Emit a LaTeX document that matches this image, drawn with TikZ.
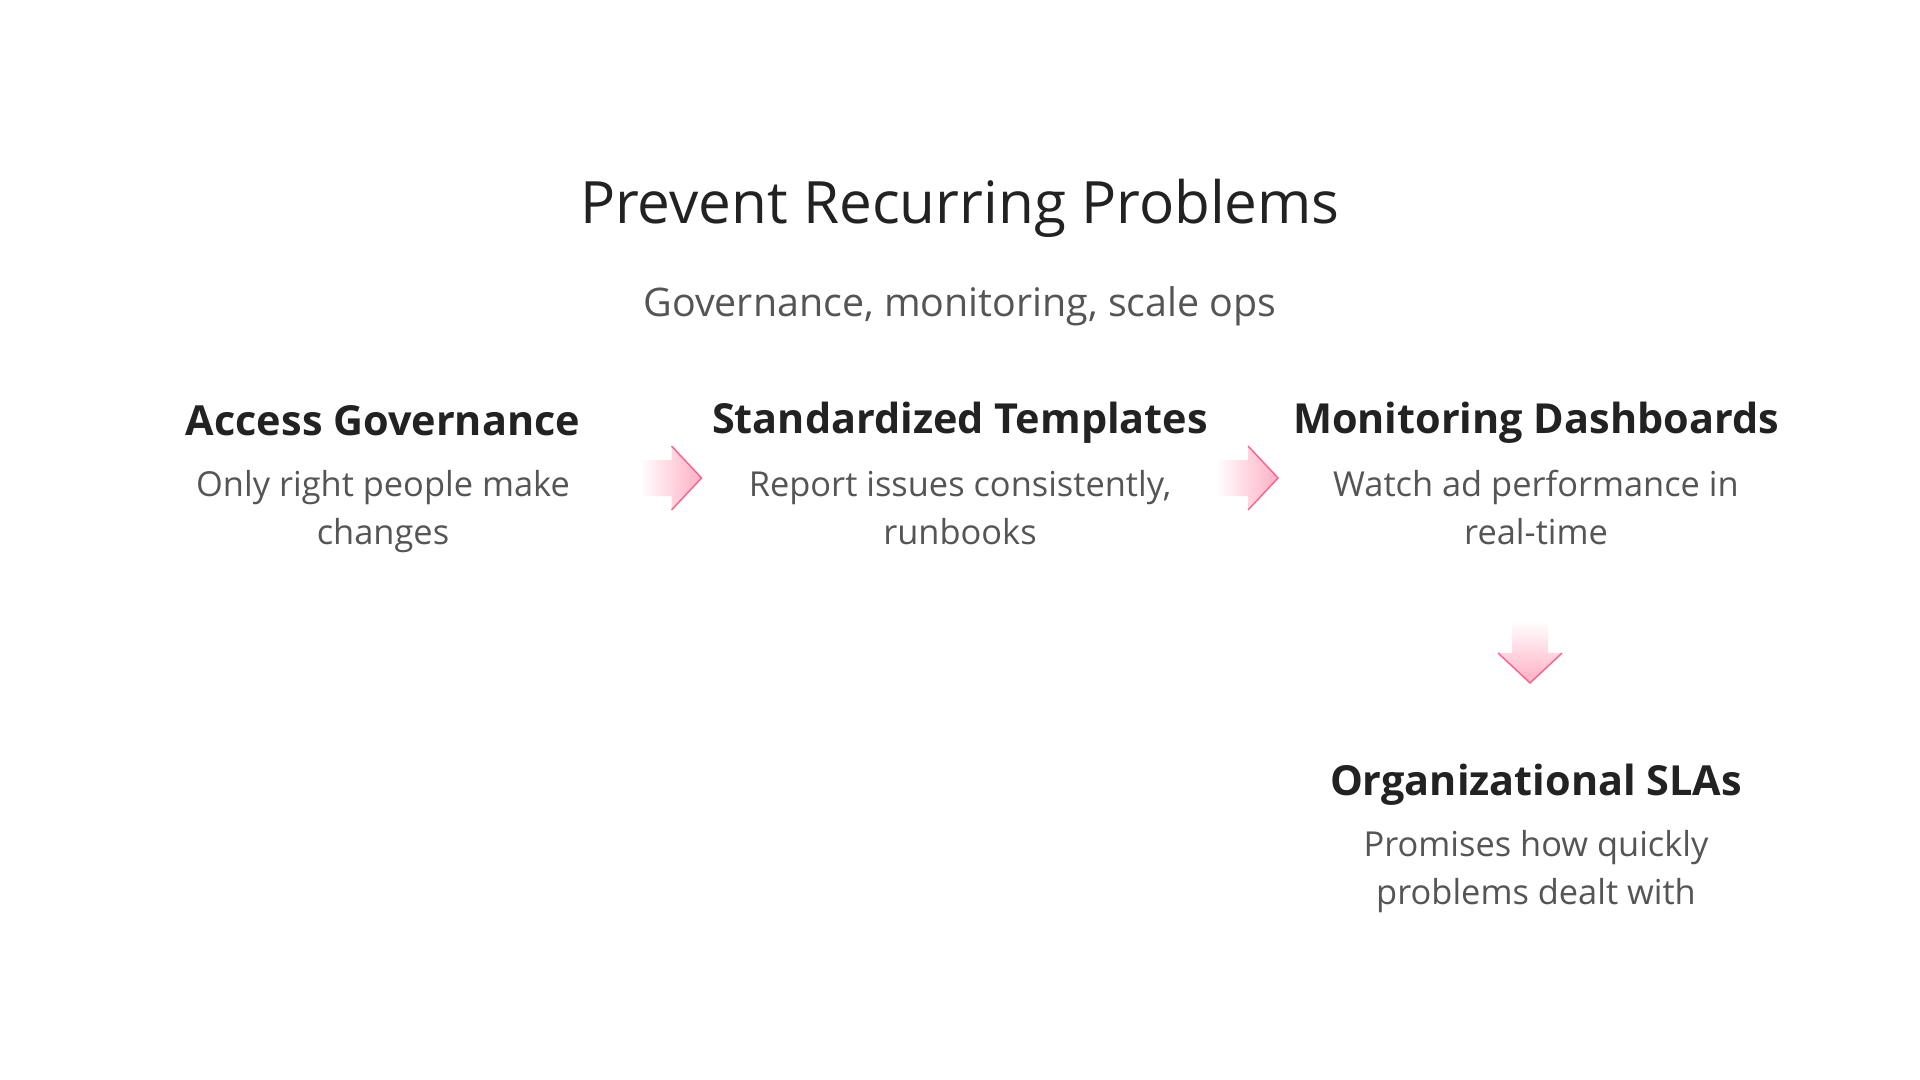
\documentclass[tikz,border=0pt]{standalone}
\usepackage{fontspec}
\setmainfont{Open Sans}
\usepackage{tikz}
\usetikzlibrary{calc,positioning}
\definecolor{darktext}{HTML}{222222}
\definecolor{greytext}{HTML}{555555}
\definecolor{arrowpink}{HTML}{FFAFC3}
\definecolor{arrowedge}{HTML}{FF4477}

\begin{document}
\begin{tikzpicture}[x=0.5pt,y=-0.5pt]
		\tikzstyle{title-text}=[color=darktext,font=\fontsize{29.2}{34}\selectfont,anchor=base,inner sep=0]
		\tikzstyle{sub-text}=[color=greytext,font=\fontsize{19.7}{24}\selectfont,anchor=base,inner sep=0]
		\tikzstyle{step-head}=[color=darktext,font=\bfseries\fontsize{20.7}{24}\selectfont,anchor=base,inner sep=0]
		\tikzstyle{step-desc}=[color=greytext,font=\fontsize{17.2}{23.7}\selectfont,align=center,anchor=base,inner sep=0]
		\tikzstyle{arrow-right}=[left color=white,right color=arrowpink]
		\tikzstyle{arrow-down}=[top color=white,bottom color=arrowpink]
		\tikzstyle{arrow-tip}=[color=arrowedge!85,line width=0.7pt,line join=miter]
		\fill [white] (0,0) rectangle (1920,1080);
		\useasboundingbox (0,0) rectangle (1920,1080);
		% header
		\node [title-text] at (960,224) (title) {Prevent Recurring Problems};
		\node [sub-text] at (960,317) (subtitle) {Governance, monitoring, scale ops};
		% steps (desc nodes sit on their last line)
		\node [step-head] at (383,435) (h1) {Access Governance};
		\node [step-desc] at (383,544) (d1) {Only right people make\\changes};
		\node [step-head] at (960,433) (h2) {Standardized Templates};
		\node [step-desc] at (960,544) (d2) {Report issues consistently,\\runbooks};
		\node [step-head] at (1536,433) (h3) {Monitoring Dashboards};
		\node [step-desc] at (1536,544) (d3) {Watch ad performance in\\real-time};
		\node [step-head] at (1536,795) (h4) {Organizational SLAs};
		\node [step-desc] at (1536,904) (d4) {Promises how quickly\\problems dealt with};
		% arrows
		\coordinate (a1) at ($(h1.base)!0.5!(h2.base)+(0,44)$);
		\coordinate (a2) at ($(h2.base)!0.5!(h3.base)+(0,45)$);
		\coordinate (a3) at ($(h3.base)+(-6,220)$);
		\begin{scope}[shift={(a1)}]
			\shade [arrow-right] (-32,-18) -- (0,-18) -- (0,-32) -- (30,0) -- (0,32) -- (0,18) -- (-32,18) -- cycle;
			\draw [arrow-tip] (0,-32) -- (30,0) -- (0,32);
		\end{scope}
		\begin{scope}[shift={(a2)}]
			\shade [arrow-right] (-32,-18) -- (0,-18) -- (0,-32) -- (30,0) -- (0,32) -- (0,18) -- (-32,18) -- cycle;
			\draw [arrow-tip] (0,-32) -- (30,0) -- (0,32);
		\end{scope}
		\begin{scope}[shift={(a3)}]
			\shade [arrow-down] (-18,-32) -- (-18,0) -- (-32,0) -- (0,30) -- (32,0) -- (18,0) -- (18,-32) -- cycle;
			\draw [arrow-tip] (-32,0) -- (0,30) -- (32,0);
		\end{scope}
	\end{tikzpicture}
\end{document}
